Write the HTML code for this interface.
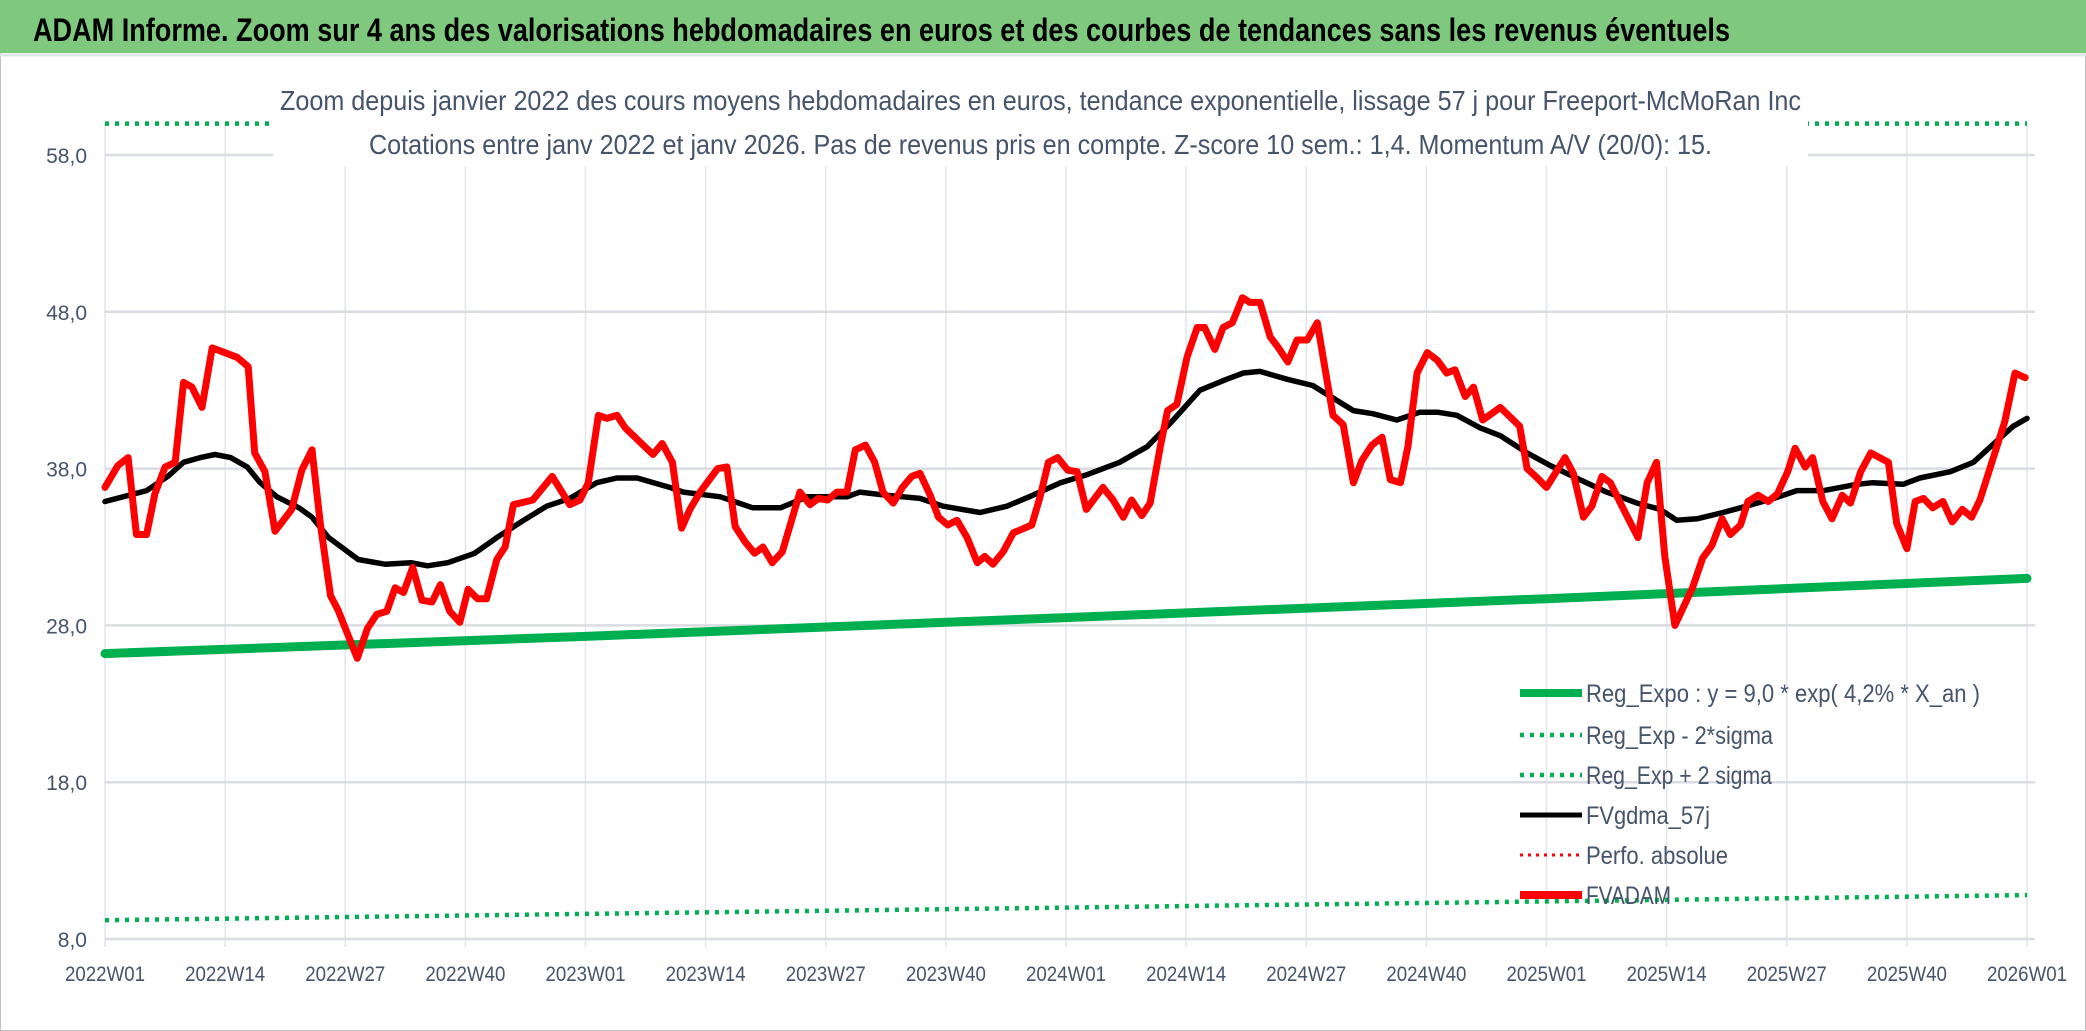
<!DOCTYPE html>
<html><head><meta charset="utf-8"><style>
html,body{margin:0;padding:0;background:#fff}
svg{display:block}
text{font-family:"Liberation Sans Narrow","Liberation Sans",sans-serif}
</style></head><body>
<svg id="chart" width="2086" height="1031" viewBox="0 0 2086 1031" xmlns="http://www.w3.org/2000/svg">
<rect x="0" y="0" width="2086" height="1031" fill="#fff"/>
<rect x="0.5" y="0.5" width="2085" height="1030" fill="none" stroke="#bfbfbf" stroke-width="1"/>
<rect x="0" y="0" width="2086" height="53" fill="#7fc97f"/>
<line x1="0" y1="55" x2="2086" y2="55" stroke="#e2e5ea" stroke-width="3"/>
<text x="33" y="41" font-size="32" font-weight="bold" fill="#000" textLength="1697" lengthAdjust="spacingAndGlyphs">ADAM Informe. Zoom sur 4 ans des valorisations hebdomadaires en euros et des courbes de tendances sans les revenus éventuels</text>
<g id="grid"></g>
<g id="series"></g>
<rect x="273" y="72" width="1535" height="94" fill="#fff"/>
<text x="280" y="110" font-size="28" fill="#44546a" textLength="1521" lengthAdjust="spacingAndGlyphs">Zoom depuis janvier 2022 des cours moyens hebdomadaires en euros, tendance exponentielle, lissage 57 j pour Freeport-McMoRan Inc</text>
<text x="369" y="154" font-size="28" fill="#44546a" textLength="1343" lengthAdjust="spacingAndGlyphs">Cotations entre janv 2022 et janv 2026. Pas de revenus pris en compte. Z-score 10 sem.: 1,4. Momentum A/V (20/0): 15.</text>
<g id="axes"></g>
<g id="legend">
  <line x1="1520" y1="693" x2="1582" y2="693" stroke="#00b050" stroke-width="8"/>
  <text x="1586" y="702" font-size="25" fill="#44546a" textLength="394" lengthAdjust="spacingAndGlyphs">Reg_Expo : y = 9,0 * exp( 4,2% *  X_an )</text>
  <line x1="1520" y1="735" x2="1582" y2="735" stroke="#00b050" stroke-width="4.5" stroke-dasharray="4 6"/>
  <text x="1586" y="744" font-size="25" fill="#44546a" textLength="187" lengthAdjust="spacingAndGlyphs">Reg_Exp - 2*sigma</text>
  <line x1="1520" y1="775" x2="1582" y2="775" stroke="#00b050" stroke-width="4.5" stroke-dasharray="4 6"/>
  <text x="1586" y="784" font-size="25" fill="#44546a" textLength="186" lengthAdjust="spacingAndGlyphs">Reg_Exp + 2 sigma</text>
  <line x1="1520" y1="815" x2="1582" y2="815" stroke="#000" stroke-width="5"/>
  <text x="1586" y="824" font-size="25" fill="#44546a" textLength="124" lengthAdjust="spacingAndGlyphs">FVgdma_57j</text>
  <line x1="1520" y1="855" x2="1582" y2="855" stroke="#ff0000" stroke-width="3" stroke-dasharray="3 5"/>
  <text x="1586" y="864" font-size="25" fill="#44546a" textLength="142" lengthAdjust="spacingAndGlyphs">Perfo. absolue</text>
  <line x1="1520" y1="895" x2="1582" y2="895" stroke="#ff0000" stroke-width="8"/>
  <text x="1586" y="904" font-size="25" fill="#44546a" textLength="85" lengthAdjust="spacingAndGlyphs">FVADAM</text>
</g>
</svg>
<script>
const yTicks = [8, 18, 28, 38, 48, 58];
const yTickLabels = ["8,0", "18,0", "28,0", "38,0", "48,0", "58,0"];
const xTickWeeks = [0, 13, 26, 39, 52, 65, 78, 91, 104, 117, 130, 143, 156, 169, 182, 195, 208];
const xTickLabels = ["2022W01","2022W14","2022W27","2022W40","2023W01","2023W14","2023W27","2023W40","2024W01","2024W14","2024W27","2024W40","2025W01","2025W14","2025W27","2025W40","2026W01"];
const adamWeeks = [0,1.4,2.5,3.4,4.5,5.4,6.5,7.6,8.5,9.4,10.5,11.6,14.3,15.5,16.2,17.3,18.4,20.2,21.3,22.4,23.3,24.4,25.2,27.3,28.4,29.4,30.5,31.4,32.3,33.3,34.3,35.4,36.3,37.3,38.4,39.3,40.3,41.3,42.4,43.3,44.2,46.3,48.4,50.3,51.4,52.3,53.4,54.3,55.4,56.3,59.3,60.3,61.4,62.4,63.3,64.4,66.3,67.3,68.2,69.3,70.3,71.2,72.2,73.3,74.4,75.2,76.3,77.2,78.2,79.2,80.3,81.2,82.3,83.3,84.2,85.3,86.3,87.3,88.2,89.3,90.2,91.2,92.2,93.3,94.4,95.2,96.1,97.2,98.3,100.3,101.2,102.1,103.1,104.2,105.2,106.2,108.0,109.1,110.2,111.1,112.2,113.1,114.2,115.0,116.0,117.1,118.2,119.0,120.1,121.0,122.0,123.1,123.9,125.0,126.1,127.0,128.0,129.0,130.1,131.2,132.0,132.9,134.0,135.1,136.0,137.1,138.2,139.1,140.2,141.0,142.0,143.1,144.2,145.2,146.1,147.2,148.1,149.1,151.0,153.1,153.9,155.0,156.0,158.0,158.9,160.0,160.9,162.0,162.9,164.0,165.9,166.9,167.9,168.8,169.9,171.8,172.9,173.9,175.0,175.9,177.0,177.8,178.9,180.0,181.0,182.1,182.9,184.0,184.8,185.9,186.9,188.0,188.9,190.0,191.1,193.0,193.9,195.0,195.9,196.8,197.8,198.9,199.9,201.0,202.0,202.9,205.6,206.7,207.8];
const adamValues = [36.8,38.2,38.7,33.8,33.8,36.4,38.1,38.4,43.5,43.2,41.9,45.7,45.1,44.5,39.0,37.8,34.0,35.4,37.9,39.2,34.5,29.9,29.0,25.9,27.8,28.7,28.9,30.4,30.1,31.7,29.6,29.5,30.6,28.9,28.2,30.3,29.7,29.7,32.2,33.0,35.7,36.0,37.5,35.7,36.0,37.1,41.4,41.2,41.4,40.6,38.9,39.6,38.4,34.2,35.4,36.5,38.0,38.1,34.3,33.3,32.6,33.0,32.0,32.7,34.9,36.5,35.7,36.1,36.0,36.5,36.5,39.2,39.5,38.4,36.5,35.8,36.8,37.5,37.7,36.3,34.9,34.4,34.7,33.6,32.0,32.4,31.9,32.7,33.9,34.4,36.2,38.4,38.7,37.9,37.8,35.4,36.8,36.0,34.9,36.0,35.0,35.8,39.4,41.7,42.1,45.1,47.0,47.0,45.6,47.0,47.3,48.9,48.6,48.6,46.4,45.7,44.8,46.2,46.2,47.3,44.5,41.4,40.8,37.1,38.5,39.5,40.0,37.3,37.1,39.4,44.1,45.4,44.9,44.1,44.3,42.6,43.2,41.1,41.9,40.7,38.0,37.4,36.8,38.7,37.7,34.9,35.6,37.5,37.1,35.8,33.6,37.1,38.4,32.4,28.0,30.4,32.3,33.1,34.8,33.8,34.4,35.9,36.3,35.9,36.4,37.8,39.3,38.1,38.7,35.9,34.8,36.3,35.8,37.8,39.0,38.4,34.5,32.9,35.9,36.1,35.5,35.9,34.6,35.4,34.9,36.0,41.0,44.1,43.8];
const maWeeks = [0,4.5,6.8,8.5,10.3,11.9,13.6,15.4,16.8,18.6,21,22.4,24.2,27.4,30.3,33.1,34.9,37.1,40,42.4,45.3,47.8,50.3,53.2,55.4,57.6,61.1,62.6,66.6,70.1,73.1,76,80.3,81.7,84.6,88.2,90.7,94.7,97.6,100.4,103.4,106.2,109.8,112.8,115.3,118.5,121.4,123.2,125,127.9,130.7,135.1,137.2,139.8,142.3,144.2,146.3,148.8,151,153.9,156.4,159.6,162.5,165.8,168.3,170.1,172.3,175.1,177,180.6,183.1,186,189.6,191.3,194.6,196.4,199.7,202.2,204.8,206.5,208];
const maValues = [35.9,36.6,37.5,38.4,38.7,38.9,38.7,38.1,37.1,36.2,35.5,34.9,33.6,32.2,31.9,32.0,31.8,32.0,32.6,33.6,34.7,35.6,36.1,37.1,37.4,37.4,36.8,36.5,36.2,35.5,35.5,36.2,36.2,36.5,36.3,36.1,35.6,35.2,35.6,36.3,37.1,37.6,38.4,39.4,40.9,43.0,43.7,44.1,44.2,43.7,43.3,41.7,41.5,41.1,41.6,41.6,41.4,40.6,40.1,39.0,38.2,37.3,36.5,35.8,35.4,34.7,34.8,35.2,35.5,36.1,36.6,36.6,37.0,37.1,37.0,37.4,37.8,38.4,39.8,40.7,41.2];
const regWeeks = [0, 52, 104, 156, 208];
const regValues = [26.2, 27.3, 28.5, 29.7, 31.0];
const regMinusValues = [9.2, 9.6, 10.0, 10.4, 10.8];
const regPlusValues = [60, 60, 60, 60, 60];

const NS = "http://www.w3.org/2000/svg";
const X0 = 105, X1 = 2027, W0 = 0, W1 = 208;
const Y0 = 939, V0 = 8, PXU = 15.68, VMAX = 60;
function xs(w){ return X0 + (w - W0) * (X1 - X0) / (W1 - W0); }
function ys(v){ return Y0 - (Math.min(v, VMAX) - V0) * PXU; }
function mk(tag, attrs, parent){
  const el = document.createElementNS(NS, tag);
  for (const k in attrs) el.setAttribute(k, attrs[k]);
  parent.appendChild(el);
  return el;
}
const grid = document.getElementById('grid');
const axes = document.getElementById('axes');
const series = document.getElementById('series');
const plotTop = ys(VMAX);

xTickWeeks.forEach((w, i) => {
  const l = mk('line', {x1: xs(w), y1: plotTop, x2: xs(w), y2: Y0 + 8, stroke: '#e3e6eb', 'stroke-width': 1.5}, grid);
  
  
  const t = mk('text', {x: xs(w), y: 981, 'font-size': 21, fill: '#44546a', 'text-anchor': 'middle', textLength: 80, lengthAdjust: 'spacingAndGlyphs'}, axes);
  t.textContent = xTickLabels[i];
  
  
});
yTicks.forEach((v, i) => {
  const l = mk('line', {x1: X0, y1: ys(v), x2: X1 + 8, y2: ys(v), stroke: '#d9dde3', 'stroke-width': 2.5}, grid);
  
  
  const t = mk('text', {x: 87, y: ys(v) + 8, 'font-size': 21, fill: '#44546a', 'text-anchor': 'end'}, axes);
  t.textContent = yTickLabels[i];
  
  
});

function pts(ws, vs){ return ws.map((w, i) => xs(w).toFixed(1) + ',' + ys(vs[i]).toFixed(1)).join(' '); }

const up = mk('polyline', {points: pts(regWeeks, regPlusValues), fill: 'none', stroke: '#00b050', 'stroke-width': 4.5, 'stroke-dasharray': '4 6'}, series);


const lo = mk('polyline', {points: pts(regWeeks, regMinusValues), fill: 'none', stroke: '#00b050', 'stroke-width': 4.5, 'stroke-dasharray': '4 6'}, series);


const rg = mk('polyline', {points: pts(regWeeks, regValues), fill: 'none', stroke: '#00b050', 'stroke-width': 9, 'stroke-linecap': 'round'}, series);


const ma = mk('polyline', {points: pts(maWeeks, maValues), fill: 'none', stroke: '#000', 'stroke-width': 5.5, 'stroke-linejoin': 'round', 'stroke-linecap': 'round'}, series);


const ad = mk('polyline', {points: pts(adamWeeks, adamValues), fill: 'none', stroke: '#ff0000', 'stroke-width': 7, 'stroke-linejoin': 'round', 'stroke-linecap': 'round'}, series);


</script>
</body></html>
